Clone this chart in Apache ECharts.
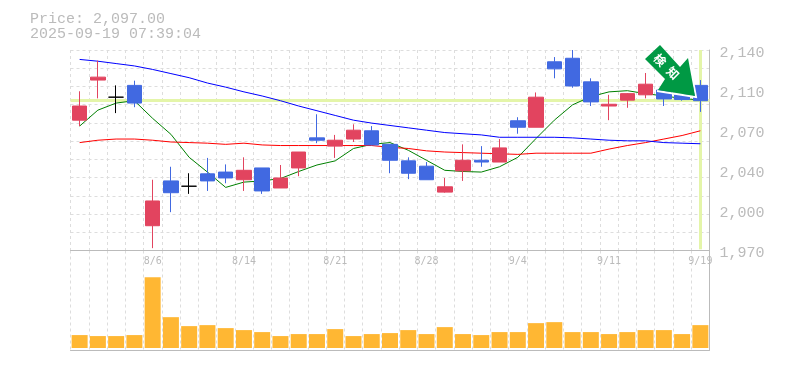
<!DOCTYPE html>
<html><head><meta charset="utf-8">
<style>html,body{margin:0;padding:0;background:#fff}#c{width:785px;height:370px}</style>
<script src="https://cdn.jsdelivr.net/npm/echarts@6/dist/echarts.min.js"></script>
</head><body><div id="c"></div>
<script>
const dates = ['7/31','8/1','8/4','8/5','8/6','8/7','8/8','8/12','8/13','8/14','8/15','8/18','8/19','8/20','8/21','8/22','8/25','8/26','8/27','8/28','8/29','9/1','9/2','9/3','9/4','9/5','9/8','9/9','9/10','9/11','9/12','9/16','9/17','9/18','9/19'];
const shownDates = ['8/6','8/14','8/21','8/28','9/4','9/11','9/19'];
const opens  = [2080.5,2114.5,2100,2110,1991,2029,2024.5,2035,2036.5,2030,2040,2023,2040,2065.5,2058.5,2064.5,2071.5,2060,2046,2041.5,2019.5,2037.5,2046.5,2045,2080,2074.5,2130,2133,2113,2092.5,2097.5,2102,2106,2102,2110];
const closes = [2092.5,2117,2100,2095,2012,2019,2024.5,2029,2031.5,2038,2020.5,2031.5,2053.5,2063.5,2063.5,2072,2059.5,2046.5,2035.5,2030,2024,2046.5,2045,2057,2074.5,2100,2124,2109.5,2096,2094,2103,2111,2098.5,2098,2097];
const highs  = [2105,2131,2110,2114,2030,2041,2035.5,2048.5,2043,2049,2040,2042.5,2053.5,2085.5,2068,2077,2075.5,2060,2049,2045,2031.5,2060,2058.5,2064.5,2083,2104,2134,2140,2116,2102,2103.5,2120.5,2106,2102,2114.5];
const lows   = [2075.5,2099,2086.5,2091.5,1972,2002.5,2018,2020.5,2027,2020.5,2018,2023,2033,2061,2048.5,2062,2059.5,2035.5,2030.5,2030,2019,2029,2041,2045,2069,2074.5,2116,2108,2092.5,2080.5,2091,2099,2092.5,2097,2087.5];
const dojiDates = ['8/4','8/8'];
const ma5  = [2075.5,2089,2095,2097,2082,2068.5,2049,2036.5,2023.5,2028,2029,2031,2037,2042.5,2046,2056.5,2060,2061.5,2055,2046.5,2038,2037,2036.5,2041,2049,2065,2080.5,2093.5,2100.5,2104.5,2105.5,2103,2101,2099,2097.5];
const ma13 = [2061.5,2063.5,2064.5,2064.5,2063.5,2062,2061.5,2061,2060,2061,2059.5,2059,2059,2059,2059,2059,2059,2057.5,2056.5,2054.5,2053.5,2053,2052.5,2052,2051.5,2052.5,2052.5,2052.5,2052.5,2056,2059,2061.5,2064.5,2067.5,2071.5];
const ma25 = [2132,2130.5,2128.5,2126.5,2123.5,2120,2116.5,2112,2108.5,2104.5,2101,2097,2092.5,2088.5,2084.5,2080.5,2078,2076,2074,2072,2070,2069,2068,2066,2066,2066,2066,2065.5,2064.5,2063.5,2063,2063,2061.5,2061,2060.5];
const volumes = [13,12,12,13,71,31,22,23,20,18,16,12,14,14,19,12,14,15,18,14,21,14,13,16,16,25,26,16,16,14,16,18,18,14,23];
const priceTicks = [1970,2004,2038,2072,2106,2140];
const currentPrice = 2097;
const titleLines = ['Price: 2,097.00','2025-09-19 07:39:04'];
const badgeText = ['検','知'];

const GREY='#bbbbbb', GRID='#dddddd', RED='#e2445f', BLUE='#4169e1', BAND='#e4f5a9';
const L=70.5, R=75.5;
const mono='"Liberation Mono", monospace';
const chart=echarts.init(document.getElementById('c'),null,{renderer:'canvas'});
const candle=dates.map((d,i)=>{
  const v=[opens[i],closes[i],lows[i],highs[i]];
  return dojiDates.includes(d)?{value:v,itemStyle:{color:'#000',color0:'#000',borderColor:'#000',borderColor0:'#000'}}:v;
});
const vx=(gi)=>({type:'category',gridIndex:gi,data:dates,boundaryGap:true,
  axisLine:{show:true,onZero:false,lineStyle:{color:GREY,width:1}},axisTick:{show:false},
  axisLabel:{show:false},
  splitLine:{show:true,interval:0,lineStyle:{color:GRID,type:[3,3],width:1}}});
const band=(from,to)=>({silent:true,symbol:'none',label:{show:false},animation:false,
  lineStyle:{color:BAND,width:3,type:'solid'},data:[[from,to]]});
chart.setOption({
  animation:false,backgroundColor:'#fff',
  title:titleLines.map((t,i)=>({text:t,left:25,top:7+i*15,textStyle:{fontFamily:mono,fontSize:15,fontWeight:'normal',color:GREY}})),
  grid:[{left:L,right:R,top:50,height:200.5},{left:L,right:R,top:250.5,height:99.5}],
  xAxis:[vx(0),Object.assign(vx(1),{position:'bottom',axisLabel:{show:false}}),
    {type:'category',gridIndex:1,data:dates,position:'top',axisLine:{show:false},axisTick:{show:false},splitLine:{show:false},
     axisLabel:{show:true,interval:0,inside:true,margin:6,fontFamily:'"DejaVu Sans Mono", monospace',fontSize:10,color:GREY,
       formatter:v=>shownDates.includes(v)?v:''}}],
  yAxis:[
    {type:'value',gridIndex:0,min:1970,max:2140,position:'right',scale:true,
     axisLine:{show:true,lineStyle:{color:GREY}},axisTick:{show:false},splitLine:{show:false},
     axisLabel:{show:true,customValues:priceTicks,margin:10,verticalAlign:'top',lineHeight:6,fontFamily:mono,fontSize:15,color:GREY,
       formatter:v=>(Math.round(v/10)*10).toLocaleString('en-US')}},
    {type:'value',gridIndex:0,min:0,max:11,interval:1,position:'left',
     axisLine:{show:false},axisTick:{show:false},axisLabel:{show:false},
     splitLine:{show:true,lineStyle:{color:GRID,type:[3,3],width:1}}},
    {type:'value',gridIndex:1,min:-2,max:98,position:'right',
     axisLine:{show:true,onZero:false,lineStyle:{color:GREY}},axisTick:{show:false},axisLabel:{show:false},splitLine:{show:false}}
  ],
  series:[
    {type:'line',name:'ma5',xAxisIndex:0,yAxisIndex:0,data:ma5,showSymbol:false,z:3,lineStyle:{color:'#008000',width:1}},
    {type:'line',name:'ma13',xAxisIndex:0,yAxisIndex:0,data:ma13,showSymbol:false,z:3,lineStyle:{color:'#ff0000',width:1}},
    {type:'line',name:'ma25',xAxisIndex:0,yAxisIndex:0,data:ma25,showSymbol:false,z:3,lineStyle:{color:'#0000ff',width:1},
     markLine:Object.assign(band({xAxis:dates[dates.length-1],yAxis:2140},{xAxis:dates[dates.length-1],yAxis:1971}),{z:1})},
    {type:'candlestick',name:'price',xAxisIndex:0,yAxisIndex:0,data:candle,barWidth:15,z:4,
     itemStyle:{color:RED,color0:BLUE,borderColor:RED,borderColor0:BLUE,borderWidth:1},
     markLine:Object.assign(band({yAxis:currentPrice,x:L},{yAxis:currentPrice,x:785-R}),{z:1})},
    {type:'bar',name:'volume',xAxisIndex:1,yAxisIndex:2,data:volumes,barWidth:16,itemStyle:{color:'#ffb733'}}
  ],
  graphic:[
    {type:'polyline',z:19,shape:{points:[[657,91],[696,97],[689,59]]},style:{fill:'none',stroke:'#ffffff',lineWidth:2}},
    {type:'polygon',z:20,shape:{points:[[660,45],[645,59],[665,79],[658,90],[695,96],[688,58],[680,67]]},
     style:{fill:'#009944'}},
    ...badgeText.map((t,i)=>({type:'text',z:21,x:660+i*13,y:60+i*13,rotation:-Math.PI/4,
      style:{text:t,fill:'#fff',fontSize:12,fontWeight:'bold',fontFamily:'"Noto Sans CJK JP"',align:'center',verticalAlign:'middle'}}))
  ]
});
</script></body></html>
